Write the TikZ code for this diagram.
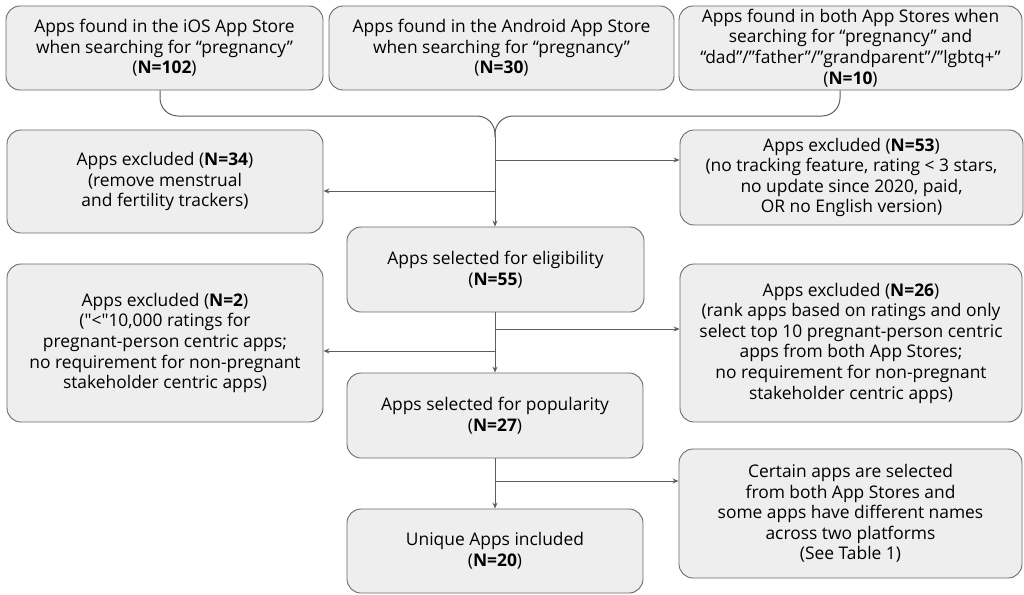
\documentclass[tikz,border=0pt]{standalone}
\usepackage{fontspec}
\setmainfont{Open Sans}[Ligatures=TeXOff]
\usetikzlibrary{arrows.meta}
\definecolor{boxfill}{HTML}{EEEEEE}
\definecolor{boxline}{HTML}{6A6A6A}
\definecolor{wire}{HTML}{5E5E5E}
\begin{document}
\begin{tikzpicture}[x=1pt,y=-1pt,
  stagebox/.style={draw=boxline,fill=boxfill,line width=0.9pt,rounded corners=14pt,
    align=center,inner sep=0pt,font=\fontsize{17.4}{20.6}\selectfont},
  wireline/.style={draw=wire,line width=1pt},
  flowarrow/.style={wireline,-{Stealth[length=6pt,width=5pt]}}]
\useasboundingbox (0,0) rectangle (1024,594);

% search results
\node[stagebox,minimum width=317pt,minimum height=84pt] (ios) at (164.5,48)
  {Apps found in the iOS App Store\\when searching for “pregnancy”\\(\textbf{N=102})};
\node[stagebox,minimum width=345pt,minimum height=84pt] (android) at (501.5,48)
  {Apps found in the Android App Store\\when searching for “pregnancy”\\(\textbf{N=30})};
\node[stagebox,minimum width=343pt,minimum height=84pt] (both) at (850.5,48)
  {Apps found in both App Stores when\\searching for “pregnancy” and\\“dad”/”father”/”grandparent”/”lgbtq+”\\(\textbf{N=10})};

% screening stages
\node[stagebox,minimum width=316pt,minimum height=103pt] (excla) at (165,181.5)
  {Apps excluded (\textbf{N=34})\\(remove menstrual\\and fertility trackers)};
\node[stagebox,minimum width=343pt,minimum height=95pt] (exclb) at (851.5,177.5)
  {Apps excluded (\textbf{N=53})\\(no tracking feature, rating < 3 stars,\\no update since 2020, paid,\\OR no English version)};
\node[stagebox,minimum width=297pt,minimum height=85pt] (elig) at (495.5,269.5)
  {Apps selected for eligibility\\(\textbf{N=55})};
\node[stagebox,minimum width=316pt,minimum height=158pt] (exclc) at (165,343)
  {Apps excluded (\textbf{N=2})\\("<"10,000 ratings for\\pregnant-person centric apps;\\no requirement for non-pregnant\\stakeholder centric apps)};
\node[stagebox,minimum width=342pt,minimum height=158pt] (excld) at (851,343)
  {Apps excluded (\textbf{N=26})\\(rank apps based on ratings and only\\select top 10 pregnant-person centric\\apps from both App Stores;\\no requirement for non-pregnant\\stakeholder centric apps)};
\node[stagebox,minimum width=296pt,minimum height=85pt] (pop) at (495,415.5)
  {Apps selected for popularity\\(\textbf{N=27})};
\node[stagebox,minimum width=296pt,minimum height=84pt] (uniq) at (495,551)
  {Unique Apps included\\(\textbf{N=20})};
\node[stagebox,minimum width=343pt,minimum height=129pt] (note) at (850.5,513.5)
  {Certain apps are selected\\from both App Stores and\\some apps have different names\\across two platforms\\(See Table 1)};

% junction points
\coordinate (merge) at (495,137);
\coordinate (bar) at (495,116);
\coordinate (sa) at (495,160);
\coordinate (sb) at (495,191);
\coordinate (sc) at (495,329);
\coordinate (sd) at (495,351);
\coordinate (se) at (495,481);

% merging brace
\draw[wireline,rounded corners=18pt] ([xshift=-4.5pt]ios.south) |- (bar) -- (merge);
\draw[wireline,rounded corners=18pt] ([xshift=-10.5pt]both.south) |- (bar) -- (merge);

% main flow
\draw[flowarrow] (merge) -- (merge |- elig.north);
\draw[flowarrow] (sa) -- (sa -| exclb.west);
\draw[flowarrow] (sb) -- (sb -| excla.east);
\draw[flowarrow] (elig.south -| merge) -- (merge |- pop.north);
\draw[flowarrow] (sc) -- (sc -| excld.west);
\draw[flowarrow] (sd) -- (sd -| exclc.east);
\draw[flowarrow] (pop.south -| merge) -- (merge |- uniq.north);
\draw[flowarrow] (se) -- (se -| note.west);
\end{tikzpicture}
\end{document}
